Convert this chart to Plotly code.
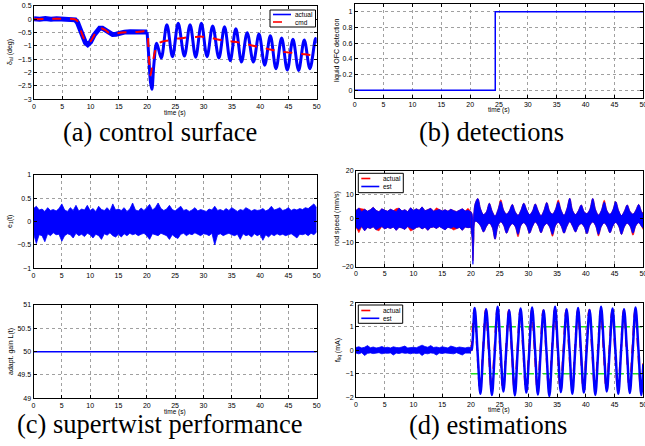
import plotly.graph_objects as go

# ---------------- data ----------------
# (a) control surface
A_CMD_T = [0, 7.2, 7.6, 8.0, 8.5, 9.0, 9.4, 9.9, 10.5, 11.0, 11.5, 12.0, 12.6, 13.2, 13.8, 14.4, 15.2, 16.5, 18.0,
           20.0, 20.2, 20.4, 20.6, 20.9, 21.3, 21.8, 22.5, 23.5, 24.5, 25.5, 26.5, 27.5, 28.5, 29.5, 30.5, 31.5,
           32.5, 33.5, 34.5, 35.5, 36.5, 37.5, 38.5, 39.5, 40.5, 41.5, 42.5, 43.5, 44.5, 45.5, 46.5, 47.5, 48.5,
           49.5, 50]
A_CMD_V = [0, 0, -0.05, -0.25, -0.55, -0.8, -0.9, -0.85, -0.65, -0.45, -0.36, -0.34, -0.4, -0.5, -0.55, -0.55,
           -0.5, -0.48, -0.48,
           -0.48, -0.9, -1.7, -2.1, -1.75, -1.3, -0.95, -0.85, -0.8, -0.78, -0.72, -0.7, -0.66, -0.66, -0.64,
           -0.68, -0.7, -0.76, -0.78, -0.82, -0.84, -0.88, -0.92, -0.98, -1.02, -1.06, -1.12, -1.16, -1.2,
           -1.23, -1.25, -1.28, -1.3, -1.33, -1.34, -1.32]
A_ACT_PRE_T = [0, 1, 2, 3, 4, 5, 6, 7, 7.3, 7.7, 8.1, 8.6, 9.1, 9.5, 10.0, 10.6, 11.1, 11.6, 12.1, 12.7, 13.3,
               13.9, 14.5, 15.2, 16, 17, 18, 19, 20.0]
A_ACT_PRE_V = [0.02, 0.0, 0.03, 0.0, 0.02, 0.0, 0.01, 0.0, -0.02, -0.12, -0.35, -0.65, -0.88, -0.95, -0.85,
               -0.6, -0.42, -0.33, -0.33, -0.42, -0.52, -0.57, -0.56, -0.5, -0.48, -0.47, -0.48, -0.47, -0.48]
A_ACT_POST_T = [20.0, 20.3, 20.6, 20.85, 21.2, 21.7, 22.5, 23.5, 24.5, 25.5, 26.6, 27.6, 28.6, 29.6, 30.6, 31.6,
                32.7, 33.7, 34.7, 35.7, 36.7, 37.7, 38.8, 39.8, 40.8, 41.8, 42.8, 43.8, 44.8, 45.8, 46.8,
                47.8, 48.8, 49.8, 50]
A_ACT_POST_V = [-0.48, -1.4, -2.35, -2.62, -1.7, -0.9, -1.45, -0.2, -1.4, -0.15, -1.38, -0.2, -1.42, -0.15,
                -1.4, -0.25, -1.45, -0.28, -1.55, -0.35, -1.6, -0.5, -1.6, -0.55, -1.72, -0.62, -1.85, -0.7,
                -1.9, -0.75, -1.92, -0.78, -1.85, -0.72, -0.9]

# (b) detections
B_T = [0, 24.35, 24.35, 50]
B_V = [0, 0, 1, 1]

# (c) supertwist: e1(t) noise envelope (0.5 s samples)
E1_T = [i * 0.5 for i in range(101)]
E1_U = [0.28, 0.33, 0.25, 0.27, 0.22, 0.3, 0.24, 0.26, 0.23, 0.28, 0.38,
        0.25, 0.22, 0.3, 0.24, 0.35, 0.23, 0.27, 0.25, 0.35, 0.24,
        0.28, 0.22, 0.33, 0.26, 0.24, 0.3, 0.23, 0.38, 0.25, 0.27,
        0.24, 0.3, 0.22, 0.27, 0.4, 0.25, 0.23, 0.29, 0.24, 0.3,
        0.37, 0.25, 0.3, 0.4, 0.28, 0.24, 0.27, 0.35, 0.26, 0.23,
        0.28, 0.33, 0.24, 0.26, 0.22, 0.25, 0.3, 0.23, 0.26, 0.24,
        0.22, 0.27, 0.25, 0.33, 0.24, 0.26, 0.23, 0.28, 0.24, 0.3,
        0.25, 0.22, 0.26, 0.24, 0.3, 0.27, 0.23, 0.26, 0.24, 0.25,
        0.28, 0.23, 0.26, 0.33, 0.25, 0.27, 0.3, 0.24, 0.26, 0.3,
        0.24, 0.27, 0.25, 0.28, 0.26, 0.3, 0.28, 0.33, 0.38, 0.3]
E1_L = [-0.25, -0.47, -0.28, -0.3, -0.43, -0.26, -0.3, -0.24, -0.28, -0.27, -0.42,
        -0.3, -0.26, -0.28, -0.35, -0.25, -0.3, -0.27, -0.32, -0.25, -0.28,
        -0.35, -0.27, -0.3, -0.38, -0.26, -0.29, -0.24, -0.3, -0.33, -0.27,
        -0.33, -0.26, -0.3, -0.25, -0.28, -0.26, -0.3, -0.27, -0.25, -0.3,
        -0.38, -0.26, -0.28, -0.3, -0.25, -0.27, -0.3, -0.38, -0.28, -0.33,
        -0.36, -0.27, -0.25, -0.3, -0.26, -0.28, -0.24, -0.27, -0.3, -0.26,
        -0.27, -0.3, -0.25, -0.5, -0.28, -0.26, -0.3, -0.27, -0.25, -0.28,
        -0.3, -0.27, -0.38, -0.26, -0.3, -0.28, -0.33, -0.26, -0.3, -0.27,
        -0.4, -0.28, -0.33, -0.27, -0.3, -0.26, -0.29, -0.27, -0.3, -0.28,
        -0.26, -0.3, -0.35, -0.27, -0.28, -0.26, -0.3, -0.25, -0.28, -0.22]

# (c) adaptive gain
L_T = [0, 50]
L_V = [50, 50]

# (d) rod speed envelopes
RS_T = ([i * 0.5 for i in range(41)] + [20.2, 20.35, 20.5, 20.75]
        + [21.2 + 0.5 * k for k in range(58)] + [50])
RB_U = [3.5, 4.5, 3.0, 4.0, 3.2, 3.8, 4.8, 3.5, 3.0, 4.2, 3.6,
        3.2, 4.0, 3.4, 3.0, 4.5, 3.3, 3.8, 3.0, 4.6, 3.5,
        4.2, 3.6, 5.0, 3.4, 3.8, 4.4, 3.2, 3.6, 3.9, 3.3,
        3.8, 3.2, 4.0, 3.4, 3.0, 3.6, 4.2, 3.3, 3.5, 3.0,
        2.0, -5.0, 2.0, 6.5,
        8.5, 4.0, 1.8, 3.0, 6.5, 3.2, 1.2, 3.8, 7.2, 3.6, 2.0, 3.4, 6.0, 3.0, 1.5, 3.6,
        6.5, 3.8, 1.8, 3.2, 6.2, 3.4, 1.3, 3.5, 6.8, 3.2, 2.0, 3.9, 7.0, 3.6, 1.5, 4.2,
        8.6, 3.5, 1.8, 3.4, 5.8, 3.0, 2.2, 4.0, 8.5, 3.8, 1.6, 3.5, 7.0, 3.3, 1.9, 3.7,
        7.2, 3.5, 1.4, 3.2, 5.8, 3.1, 2.0, 3.6, 6.0, 3.0,
        2.0]
RB_L = [-3.5, -4.5, -3.2, -5.0, -3.6, -4.0, -3.3, -4.6, -3.8, -3.2, -4.2,
        -3.6, -4.0, -3.4, -4.8, -3.5, -3.8, -4.4, -3.2, -3.9, -4.5,
        -3.6, -3.3, -4.2, -3.5, -4.8, -3.6, -3.4, -4.0, -3.2, -3.8,
        -4.6, -3.5, -3.9, -3.3, -4.0, -3.6, -4.8, -3.4, -3.7, -3.5,
        -8.0, -19.0, -9.0, -1.0,
        -1.5, -3.0, -5.5, -3.2, -1.8, -3.5, -8.5, -3.0, -1.2, -2.8, -6.0, -3.4, -2.0, -3.2, -6.5, -2.8,
        -1.6, -3.0, -6.0, -3.3, -1.3, -2.9, -5.8, -3.1, -1.9, -3.4, -6.5, -2.9, -1.5, -3.0, -6.0, -3.2,
        -1.2, -3.1, -5.5, -3.0, -2.0, -3.3, -6.2, -2.7, -1.3, -2.9, -6.5, -3.2, -1.7, -3.2, -5.8, -3.0,
        -1.5, -3.0, -6.5, -3.4, -1.8, -3.1, -6.0, -2.9, -1.6, -3.2,
        -4.0]
RR_U = [3.5, 4.5, 4.2, 4.0, 3.2, 3.8, 4.8, 3.5, 3.0, 4.2, 3.6,
        3.2, 4.0, 3.4, 4.3, 4.5, 3.3, 3.8, 3.0, 4.6, 3.5,
        4.2, 3.6, 5.0, 3.4, 3.8, 4.4, 3.2, 4.6, 3.9, 3.3,
        3.8, 3.2, 4.0, 3.4, 3.0, 3.6, 4.2, 3.3, 4.4, 3.0,
        2.0, -5.0, 2.0, 6.5,
        8.5, 4.0, 1.8, 3.0, 6.5, 3.2, 1.2, 3.8, 8.0, 3.6, 2.0, 3.4, 6.0, 3.0, 1.5, 3.6,
        6.5, 3.8, 1.8, 3.2, 6.2, 3.4, 1.3, 3.5, 6.8, 3.2, 2.0, 3.9, 7.9, 3.6, 1.5, 4.2,
        8.6, 3.5, 1.8, 3.4, 5.8, 3.0, 2.2, 4.0, 8.5, 3.8, 1.6, 3.5, 7.8, 3.3, 1.9, 3.7,
        7.2, 3.5, 1.4, 3.2, 5.8, 3.1, 2.0, 3.6, 6.0, 3.0,
        2.6]
RR_L = [-3.5, -5.8, -3.2, -5.0, -3.6, -4.0, -3.3, -4.6, -5.0, -3.2, -4.2,
        -3.6, -4.0, -3.4, -4.8, -3.5, -3.8, -4.4, -3.2, -5.1, -4.5,
        -3.6, -3.3, -4.2, -3.5, -4.8, -3.6, -3.4, -4.0, -3.2, -3.8,
        -4.6, -3.5, -3.9, -4.7, -4.0, -3.6, -4.8, -3.4, -3.7, -3.5,
        -8.0, -17.5, -9.0, -1.0,
        -1.5, -3.0, -5.5, -3.2, -1.8, -3.5, -8.5, -3.0, -1.2, -2.8, -6.0, -3.4, -2.0, -3.2, -7.5, -2.8,
        -1.6, -3.0, -6.0, -3.3, -1.3, -2.9, -5.8, -3.1, -1.9, -3.4, -7.3, -2.9, -1.5, -3.0, -6.0, -3.2,
        -1.2, -3.1, -5.5, -3.0, -2.0, -3.3, -6.2, -2.7, -1.3, -2.9, -7.2, -3.2, -1.7, -3.2, -5.8, -3.0,
        -1.5, -3.0, -6.5, -3.4, -1.8, -3.1, -6.9, -2.9, -1.6, -3.2,
        -4.6]

# (d) f_liq estimation
FQ_PRE_T = [i * 0.5 for i in range(41)]
FQ_PRE_U = [0.12, 0.15, 0.1, 0.13, 0.2, 0.11, 0.14, 0.1, 0.12, 0.16, 0.11,
            0.13, 0.1, 0.15, 0.12, 0.11, 0.14, 0.18, 0.1, 0.12, 0.13,
            0.11, 0.15, 0.22, 0.16, 0.13, 0.2, 0.12, 0.14, 0.11, 0.15,
            0.12, 0.1, 0.18, 0.13, 0.11, 0.14, 0.12, 0.1, 0.13, 0.12]
FQ_PRE_L = [-0.12, -0.15, -0.1, -0.22, -0.13, -0.11, -0.14, -0.12, -0.1, -0.15, -0.12,
            -0.13, -0.11, -0.2, -0.12, -0.14, -0.1, -0.13, -0.12, -0.15, -0.11,
            -0.14, -0.12, -0.22, -0.13, -0.15, -0.11, -0.13, -0.2, -0.12, -0.14,
            -0.11, -0.13, -0.12, -0.15, -0.1, -0.14, -0.2, -0.12, -0.13, -0.12]
FQ_ACT_PRE_T = [0, 20.1]
FQ_ACT_PRE_V = [0, 0]
FQ_ACT_T = [20.1 + 0.5 * k for k in range(60)] + [50]
FQ_ACT_V = [0, 1.72, 0, -1.72, 0, 1.74, 0, -1.7, 0, 1.72, 0, -1.74, 0, 1.7, 0, -1.72,
            0, 1.73, 0, -1.71, 0, 1.72, 0, -1.73, 0, 1.7, 0, -1.72, 0, 1.74, 0, -1.72,
            0, 1.71, 0, -1.73, 0, 1.72, 0, -1.7, 0, 1.73, 0, -1.72, 0, 1.72, 0, -1.74,
            0, 1.7, 0, -1.72, 0, 1.73, 0, -1.71, 0, 1.72, 0, -1.72,
            -0.55]
FQ_EST_T = [20.0] + [20.15 + 0.5 * k for k in range(60)] + [50]
FQ_EST_V = [0.0,
            0.05, 1.8, -0.05, -1.85, 0.08, 1.75, 0.02, -1.9, -0.06, 1.85, 0.05, -1.75, 0.03, 1.7, -0.04, -1.92,
            0.06, 1.78, 0.0, -1.8, -0.05, 1.82, 0.07, -1.88, 0.02, 1.7, -0.06, -1.95, 0.04, 1.85, 0.0, -1.78,
            -0.03, 1.75, 0.06, -1.85, 0.02, 1.8, -0.05, -1.8, 0.05, 1.72, 0.0, -1.9, -0.04, 1.85, 0.06, -1.75,
            0.03, 1.78, -0.02, -1.85, 0.05, 1.75, 0.0, -1.82, -0.05, 1.82, 0.04, -1.9,
            -0.6]
FQ_LIM_T = [20, 50]
FQ_LIM_HI = [1, 1]
FQ_LIM_LO = [-1, -1]

X_TICKS = [0, 5, 10, 15, 20, 25, 30, 35, 40, 45, 50]

BLUE = "#0000ff"
RED = "#ff0000"
GREEN = "#22dd22"

fig = go.Figure()


def sc(x, y, ax, color, width=1.5, dash=None, shape="linear", fill=None):
    return go.Scatter(x=x, y=y, mode="lines", xaxis="x" + ax, yaxis="y" + ax,
                      line=dict(color=color, width=width, dash=dash, shape=shape),
                      fill=fill, fillcolor=color if fill else None,
                      showlegend=False, hoverinfo="skip")


# (a)
fig.add_trace(sc(A_ACT_PRE_T, A_ACT_PRE_V, "", BLUE, 5))
fig.add_trace(sc(A_ACT_POST_T, A_ACT_POST_V, "", BLUE, 3, shape="spline"))
fig.add_trace(sc(A_CMD_T, A_CMD_V, "", RED, 2, dash="dash", shape="spline"))
# (b)
fig.add_trace(sc(B_T, B_V, "2", BLUE, 1.5))
# (c) e1
fig.add_trace(sc(E1_T, E1_L, "3", BLUE, 0.8))
fig.add_trace(sc(E1_T, E1_U, "3", BLUE, 0.8, fill="tonexty"))
# (d) rod speed: noisy part before 20 s (linear), oscillating part after (spline)
N_PRE = 41
for lo, hi, col, w in ((RR_L, RR_U, RED, 0.6), (RB_L, RB_U, BLUE, 0.8)):
    fig.add_trace(sc(RS_T[:N_PRE], lo[:N_PRE], "4", col, w))
    fig.add_trace(sc(RS_T[:N_PRE], hi[:N_PRE], "4", col, w, fill="tonexty"))
for lo, hi, col, w in ((RR_L, RR_U, RED, 0.6), (RB_L, RB_U, BLUE, 0.8)):
    fig.add_trace(sc(RS_T[N_PRE - 1:], lo[N_PRE - 1:], "4", col, w, shape="spline"))
    fig.add_trace(sc(RS_T[N_PRE - 1:], hi[N_PRE - 1:], "4", col, w, shape="spline", fill="tonexty"))
# (c) gain
fig.add_trace(sc(L_T, L_V, "5", BLUE, 1.5))
# (d) f_liq
fig.add_trace(sc(FQ_LIM_T, FQ_LIM_HI, "6", GREEN, 1.5, dash="dashdot"))
fig.add_trace(sc(FQ_LIM_T, FQ_LIM_LO, "6", GREEN, 1.5, dash="dashdot"))
fig.add_trace(sc(FQ_ACT_PRE_T, FQ_ACT_PRE_V, "6", RED, 2, dash="dash"))
fig.add_trace(sc(FQ_ACT_T, FQ_ACT_V, "6", RED, 2, dash="dash", shape="spline"))
fig.add_trace(sc(FQ_PRE_T, FQ_PRE_L, "6", BLUE, 0.8))
fig.add_trace(sc(FQ_PRE_T, FQ_PRE_U, "6", BLUE, 0.8, fill="tonexty"))
fig.add_trace(sc(FQ_EST_T, FQ_EST_V, "6", BLUE, 2.5, shape="spline"))

W, H = 645, 446
TICKFONT = dict(family="Liberation Sans", size=7, color="black")


def axis(domain, rng, anchor, tickvals):
    return dict(domain=domain, range=rng, anchor=anchor, tickvals=tickvals,
                showline=True, linecolor="black", linewidth=1, mirror="ticks",
                ticks="inside", ticklen=3, tickcolor="black",
                showgrid=True, gridcolor="#a0a0a0", griddash="dot", gridwidth=1,
                zeroline=False, tickfont=TICKFONT, fixedrange=True,
                ticklabeloverflow="allow")


def px_x(a, b):
    return [a / W, b / W]


def px_y(top, bottom):
    return [1 - bottom / H, 1 - top / H]


layout_axes = {
    "xaxis": axis(px_x(34, 316.7), [0, 50], "y", X_TICKS),
    "yaxis": axis(px_y(6, 99.3), [-3, 0.5], "x", [-3, -2.5, -2, -1.5, -1, -0.5, 0, 0.5]),
    "xaxis2": axis(px_x(354.7, 643.3), [0, 50], "y2", X_TICKS),
    "yaxis2": axis(px_y(4, 98), [-0.1, 1.1], "x2", [0, 0.2, 0.4, 0.6, 0.8, 1]),
    "xaxis3": axis(px_x(33.5, 316.7), [0, 50], "y3", X_TICKS),
    "yaxis3": axis(px_y(175, 268.3), [-1, 1], "x3", [-1, -0.5, 0, 0.5, 1]),
    "xaxis4": axis(px_x(356, 643.3), [0, 50], "y4", X_TICKS),
    "yaxis4": axis(px_y(171, 266.7), [-20, 20], "x4", [-20, -10, 0, 10, 20]),
    "xaxis5": axis(px_x(33.5, 316.7), [0, 50], "y5", X_TICKS),
    "yaxis5": axis(px_y(305, 398.3), [49, 51], "x5", [49, 49.5, 50, 50.5, 51]),
    "xaxis6": axis(px_x(356, 643.3), [0, 50], "y6", X_TICKS),
    "yaxis6": axis(px_y(303.3, 397.3), [-2, 2], "x6", [-2, -1, 0, 1, 2]),
}

SMALL = dict(family="Liberation Sans", size=7, color="black")
XT = dict(family="Liberation Sans", size=6.5, color="black")
CAP = dict(family="Liberation Serif", size=26.5, color="black")


def ann(text, x, y, font, angle=0, xanchor="center"):
    return dict(text=text, x=x / W, y=1 - y / H, xref="paper", yref="paper",
                showarrow=False, font=font, textangle=angle, xanchor=xanchor, yanchor="middle")


annotations = [
    ann("δ<sub>al</sub> (deg)", 10, 52, SMALL, -90),
    ann("liquid OFC detection", 337, 50, SMALL, -90),
    ann("e<sub>1</sub>(t)", 10, 222, SMALL, -90),
    ann("rod speed (mm/s)", 337, 218, SMALL, -90),
    ann("adapt. gain L(t)", 11, 352, SMALL, -90),
    ann("f<sub>liq</sub> (mA)", 338, 350, SMALL, -90),
    ann("time (s)", 175, 113, XT),
    ann("time (s)", 499, 110, XT),
    ann("time (s)", 175, 412, XT),
    ann("time (s)", 499, 410, XT),
    ann("(a) control surface", 160, 131.5, CAP),
    ann("(b) detections", 491, 131.5, CAP),
    ann("(c) supertwist performance", 159, 423.5, CAP),
    ann("(d) estimations", 488, 425, CAP),
]

shapes = []


def px2p(x, y):
    return x / W, 1 - y / H


def legend_box(x0, y0, x1, y1, items):
    # items: (label, color, dash, row_y)
    a, b = px2p(x0, y0)
    c, d = px2p(x1, y1)
    shapes.append(dict(type="rect", xref="paper", yref="paper", x0=a, y0=d, x1=c, y1=b,
                       line=dict(color="black", width=1), fillcolor="white", layer="above"))
    for label, color, dash, ry in items:
        lx0, ly = px2p(x0 + 3, ry)
        lx1, _ = px2p(x0 + 21, ry)
        shapes.append(dict(type="line", xref="paper", yref="paper", x0=lx0, x1=lx1, y0=ly, y1=ly,
                           line=dict(color=color, width=1.6, dash=dash), layer="above"))
        annotations.append(ann(label, x0 + 23, ry, dict(family="Liberation Sans", size=6.5, color="black"),
                               xanchor="left"))


legend_box(270, 10, 315.5, 27, [("actual", BLUE, "solid", 14.5), ("cmd", RED, "dash", 22)])
legend_box(358.3, 173.3, 403.3, 192.7, [("actual", RED, "dash", 178.5), ("est", BLUE, "solid", 186.5)])
legend_box(358.3, 305, 402.7, 323.3, [("actual", RED, "dash", 310.5), ("est", BLUE, "solid", 318.3)])

fig.update_layout(
    width=W, height=H, margin=dict(l=0, r=0, t=0, b=0, autoexpand=False),
    paper_bgcolor="white", plot_bgcolor="white",
    showlegend=False,
    annotations=annotations,
    shapes=shapes,
    **layout_axes,
)

fig.write_html("out.html", config={"displayModeBar": False},
               post_script="document.body.style.margin='0';document.body.style.padding='0';")
